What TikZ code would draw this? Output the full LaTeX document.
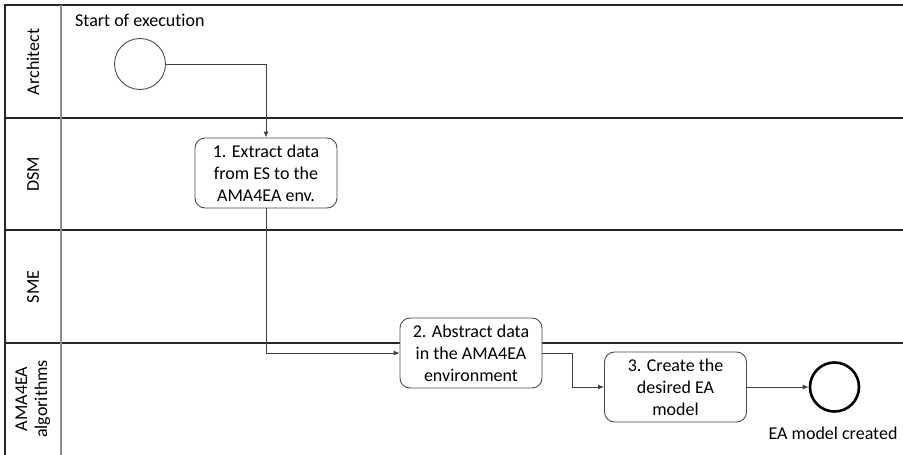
\documentclass[tikz,border=0pt]{standalone}
\usepackage{fontspec}
\setmainfont{Carlito}[Ligatures={NoCommon}]
\usetikzlibrary{arrows.meta}
\begin{document}
\begin{tikzpicture}[x=1pt,y=-1pt,
  lane/.style={draw=black!85, line width=1.1pt},
  divider/.style={draw=black!45, line width=1.4pt},
  lanelabel/.style={rotate=90, align=center, font=\fontsize{18}{20}\selectfont},
  task/.style={draw=black!70, fill=white, line width=0.9pt, rounded corners=10pt, minimum width=142pt, minimum height=70pt, align=center, inner sep=2pt, font=\fontsize{18}{22}\selectfont},
  flow/.style={draw=black!75, line width=0.9pt, -{Latex[length=6pt,width=5pt]}},
  txt/.style={font=\fontsize{18}{20}\selectfont, inner sep=0pt},
]
\useasboundingbox (0,0) rectangle (903,455);

% pool frame and swimlanes
\draw[lane] (903,5) -- (5,5) -- (5,455);
\draw[lane] (5,118) -- (903,118);
\draw[lane] (5,230) -- (903,230);
\draw[lane] (5,343) -- (903,343);
\draw[divider] (61,5) -- (61,455);

% lane titles
\node[lanelabel] (lArch) at (33,62) {Architect};
\node[lanelabel] (lDSM) at (33,174) {DSM};
\node[lanelabel] (lSME) at (33,287) {SME};
\node[lanelabel] (lAlg) at (33,399) {AMA4EA\\algorithms};

% events
\node[circle, draw=black!70, fill=white, line width=0.9pt, minimum size=51pt, inner sep=0pt] (start) at (140,64) {};
\node[txt, anchor=base west] (startlbl) at (75,27) {Start of execution};
\node[circle, draw=black, fill=white, line width=2.6pt, minimum size=49pt, inner sep=0pt] (end) at (834.5,387) {};
\node[txt, anchor=base] (endlbl) at (833,439) {EA model created};

% tasks
\node[task] (t1) at (266,173) {1. Extract data\\from ES to the\\AMA4EA env.};
\node[task] (t2) at (471,353) {2. Abstract data\\in the AMA4EA\\environment};
\node[task] (t3) at (675.5,387) {3. Create the\\desired EA\\model};

% sequence flows
\draw[flow] (start.east) -- (start.east -| t1.north) -- (t1.north);
\draw[flow] (t1.south) -- (t1.south |- t2.west) -- (t2.west);
\draw[flow] (t2.east) -- (572,353) -- (572,387) -- (t3.west);
\draw[flow] (t3.east) -- (end.west);
\end{tikzpicture}
\end{document}
